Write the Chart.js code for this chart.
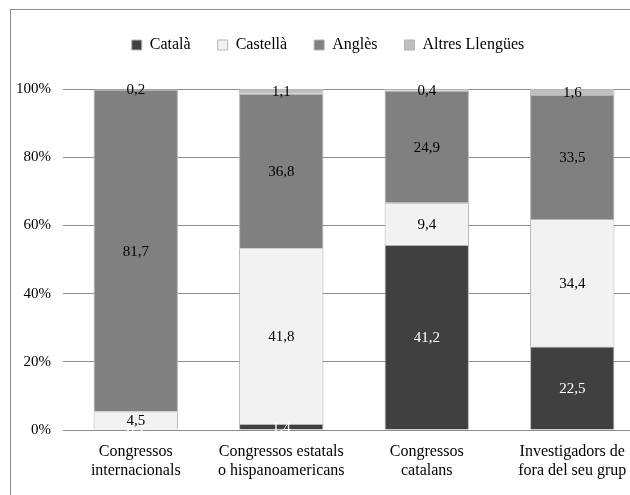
<!DOCTYPE html>
<html>
<head>
<meta charset="utf-8">
<script src="https://cdn.jsdelivr.net/npm/chart.js@4"></script>
<style>
  html, body { margin: 0; padding: 0; background: #fff; overflow: hidden; }
  #frame { position: absolute; left: 10px; top: 9px; width: 640px; height: 500px; border: 1px solid #8c8c8c; }
  #frame canvas { display: block; }
</style>
</head>
<body>
<div id="frame"><canvas id="chart" width="640" height="500"></canvas></div>
<script>
// Llengua de les comunicacions segons el tipus de destinatari
const categories = [
    ['Congressos', 'internacionals'],
    ['Congressos estatals', 'o hispanoamericans'],
    ['Congressos', 'catalans'],
    ['Investigadors de', 'fora del seu grup']
];
const catala  = [0.2, 1.4, 41.2, 22.5];
const castella = [4.5, 41.8, 9.4, 34.4];
const angles  = [81.7, 36.8, 24.9, 33.5];
const altres  = [0.2, 1.1, 0.4, 1.6];

const serif = '"Liberation Serif", "Times New Roman", serif';

// Cada barra es reparteix sobre el 100% del total de la categoria
const totals = categories.map((c, i) => catala[i] + castella[i] + angles[i] + altres[i]);
const toPct = arr => arr.map((v, i) => v / totals[i] * 100);

function makeSet(label, values, fill, textColor) {
    return {
        label: label,
        data: toPct(values),
        raw: values,
        labelColor: textColor,
        backgroundColor: fill,
        borderColor: '#b4b4b4',
        borderWidth: 1
    };
}

// Escriu el valor original al mig de cada segment
const valueLabels = {
    id: 'valueLabels',
    afterDatasetsDraw(chart) {
        const ctx = chart.ctx;
        ctx.save();
        ctx.font = '15px ' + serif;
        ctx.textAlign = 'center';
        ctx.textBaseline = 'middle';
        chart.data.datasets.forEach((ds, i) => {
            chart.getDatasetMeta(i).data.forEach((bar, j) => {
                const p = bar.getProps(['x', 'y', 'base'], true);
                ctx.fillStyle = ds.labelColor;
                ctx.fillText(ds.raw[j].toFixed(1).replace('.', ','), p.x, (p.y + p.base) / 2 + 1);
            });
        });
        ctx.restore();
    }
};

// Més espai entre la llegenda i la zona del gràfic
const legendGap = {
    id: 'legendGap',
    beforeInit(chart) {
        const fit = chart.legend.fit;
        chart.legend.fit = function () {
            fit.call(this);
            this.height += 26;
        };
    }
};

new Chart(document.getElementById('chart'), {
    type: 'bar',
    data: {
        labels: categories,
        datasets: [
            makeSet('Català', catala, '#404040', '#ffffff'),
            makeSet('Castellà', castella, '#f2f2f2', '#000000'),
            makeSet('Anglès', angles, '#808080', '#000000'),
            makeSet('Altres Llengües', altres, '#bfbfbf', '#000000')
        ]
    },
    options: {
        responsive: false,
        animation: false,
        layout: { padding: { top: 0, right: 6, bottom: 20, left: 0 } },
        datasets: {
            bar: { categoryPercentage: 1, barPercentage: 0.58 }
        },
        plugins: {
            legend: {
                position: 'top',
                labels: {
                    boxWidth: 10,
                    boxHeight: 10,
                    padding: 27,
                    color: '#000',
                    font: { family: serif, size: 16 }
                }
            },
            tooltip: { enabled: false }
        },
        scales: {
            x: {
                stacked: true,
                grid: { display: false, drawTicks: false },
                border: { display: false },
                ticks: {
                    color: '#000',
                    padding: 12,
                    maxRotation: 0,
                    autoSkip: false,
                    font: { family: serif, size: 16 }
                },
                afterFit(scale) { scale.height = 60; }
            },
            y: {
                stacked: true,
                min: 0,
                max: 100,
                grid: { color: '#8c8c8c', drawTicks: false },
                border: { display: false },
                ticks: {
                    stepSize: 20,
                    color: '#000',
                    padding: 12,
                    font: { family: serif, size: 15 },
                    callback: v => v + '%'
                },
                afterFit(scale) { scale.width = 52; }
            }
        }
    },
    plugins: [valueLabels, legendGap]
});
</script>
</body>
</html>
